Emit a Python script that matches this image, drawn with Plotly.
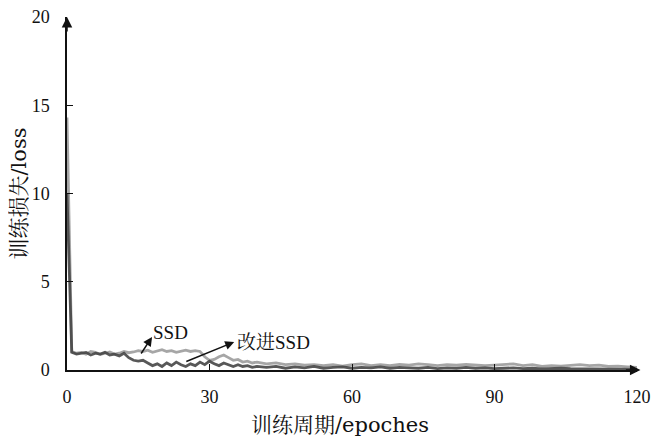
import plotly.graph_objects as go

epochs = list(range(0, 41)) + list(range(42, 121, 2))

loss_ssd = [14.3, 1.05, 0.95, 1.0, 0.9, 1.05, 1.0, 0.88, 0.95, 1.02,
            0.9, 0.95, 1.05, 0.98, 1.02, 1.1, 1.05, 1.12, 1.0, 1.08,
            1.15, 1.05, 1.1, 1.0, 1.08, 1.12, 1.05, 1.1, 1.05, 0.75,
            0.55, 0.6, 0.75, 0.85, 0.7, 0.55, 0.6, 0.45, 0.5, 0.4,
            0.45,
            0.35, 0.4, 0.3, 0.35, 0.28, 0.3, 0.25, 0.3, 0.22, 0.3,
            0.35, 0.25, 0.3, 0.25, 0.32, 0.28, 0.35, 0.3, 0.25, 0.3,
            0.28, 0.32, 0.3, 0.25, 0.28, 0.3, 0.35, 0.25, 0.3, 0.2,
            0.25, 0.22, 0.28, 0.3, 0.25, 0.28, 0.2, 0.22, 0.18, 0.15]

loss_improved = [10.0, 1.0, 0.9, 0.95, 1.0, 0.85, 0.95, 0.9, 1.0, 0.85,
                 0.9, 0.8, 0.95, 0.7, 0.55, 0.5, 0.55, 0.4, 0.25, 0.35,
                 0.2, 0.4, 0.25, 0.45, 0.3, 0.2, 0.35, 0.25, 0.45, 0.3,
                 0.5, 0.35, 0.25, 0.4, 0.3, 0.2, 0.3, 0.2, 0.25, 0.15,
                 0.2,
                 0.15, 0.2, 0.1, 0.18, 0.12, 0.2, 0.1, 0.15, 0.18, 0.1,
                 0.15, 0.12, 0.18, 0.1, 0.15, 0.12, 0.1, 0.15, 0.08, 0.12,
                 0.1, 0.15, 0.1, 0.12, 0.08, 0.1, 0.12, 0.08, 0.1, 0.06,
                 0.08, 0.1, 0.07, 0.06, 0.08, 0.05, 0.06, 0.04, 0.05, 0.04]

x_ticks = [0, 30, 60, 90, 120]
y_ticks = [0, 5, 10, 15, 20]
x_title = "训练周期/epoches"
y_title = "训练损失/loss"
label_ssd = "SSD"
label_improved = "改进SSD"

FONT = "Liberation Serif, 'Noto Serif CJK SC', 'Noto Sans CJK SC', serif"
TITLE_FONT = "DejaVu Serif, 'Noto Serif CJK SC', 'Noto Sans CJK SC', serif"

fig = go.Figure()
fig.add_trace(go.Scatter(x=epochs, y=loss_ssd, mode="lines",
                         line=dict(color="rgba(150,150,150,0.85)", width=2.8),
                         showlegend=False))
fig.add_trace(go.Scatter(x=epochs, y=loss_improved, mode="lines",
                         line=dict(color="rgba(70,70,70,0.9)", width=2.8),
                         showlegend=False))

# the page body adds an 8 px offset, so the figure is sized 653x428
fig.update_layout(
    width=653, height=428,
    margin=dict(l=59, r=24, t=9, b=66),
    paper_bgcolor="white", plot_bgcolor="white",
    font=dict(family=FONT, size=16, color="#111"),
    xaxis=dict(range=[0, 120], tickvals=x_ticks, ticks="inside", ticklen=6,
               tickcolor="#111", tickwidth=1.2, showline=True, linecolor="#111",
               linewidth=1.5, showgrid=False, zeroline=False, automargin=False,
               ticklabelstandoff=10, ticklabeloverflow="allow", tickfont=dict(size=18)),
    yaxis=dict(range=[0, 20], tickvals=y_ticks, ticks="inside", ticklen=6,
               tickcolor="#111", tickwidth=1.2, showline=True, linecolor="#111",
               linewidth=1.5, showgrid=False, zeroline=False, automargin=False,
               ticklabelstandoff=12, ticklabeloverflow="allow", tickfont=dict(size=18)),
)

ann = []
# axis arrowheads (paper refs so they are not hidden outside the axis range)
ann.append(dict(x=1.006, y=0, xref="paper", yref="paper", ax=-16, ay=0, showarrow=True,
                arrowhead=2, arrowsize=1.4, arrowwidth=1.5, arrowcolor="#111", text=""))
ann.append(dict(x=0, y=1.0, xref="paper", yref="paper", ax=0, ay=16, showarrow=True,
                arrowhead=2, arrowsize=1.4, arrowwidth=1.5, arrowcolor="#111", text=""))
# series labels with arrows
ann.append(dict(x=17.9, y=1.87, xref="x", yref="y", ax=15.4, ay=0.85,
                axref="x", ayref="y", showarrow=True, arrowhead=2, arrowsize=1.2,
                arrowwidth=1.5, arrowcolor="#111", text=""))
ann.append(dict(x=17.6, y=2.1, xref="x", yref="y", text=label_ssd, showarrow=False,
                xanchor="left", yanchor="middle", font=dict(size=19, family=FONT)))
ann.append(dict(x=35.2, y=1.59, xref="x", yref="y", ax=24.8, ay=0.45,
                axref="x", ayref="y", showarrow=True, arrowhead=2, arrowsize=1.2,
                arrowwidth=1.5, arrowcolor="#111", text=""))
ann.append(dict(x=35.4, y=1.55, xref="x", yref="y", text=label_improved, showarrow=False,
                xanchor="left", yanchor="middle", font=dict(size=19, family=FONT)))
# axis titles
ann.append(dict(x=0.5, y=0, xref="paper", yref="paper", text=x_title, showarrow=False,
                xanchor="center", yanchor="middle", xshift=-12, yshift=-55,
                font=dict(size=21, family=TITLE_FONT)))
ann.append(dict(x=0, y=0.5, xref="paper", yref="paper", text=y_title, showarrow=False,
                xanchor="center", yanchor="middle", xshift=-49, textangle=-90,
                font=dict(size=21, family=TITLE_FONT)))
fig.update_layout(annotations=ann)

fig.write_html("out.html")
